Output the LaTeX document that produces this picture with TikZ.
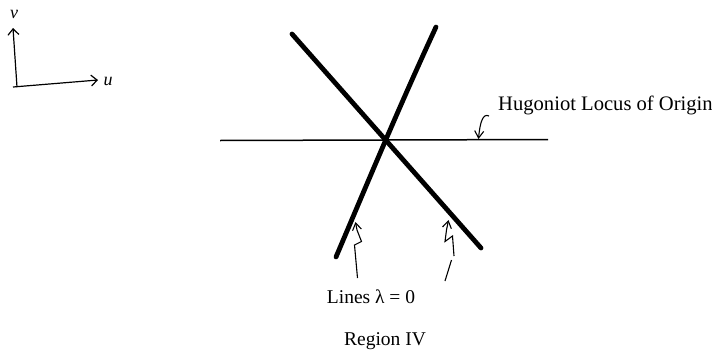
\documentclass[tikz,border=0pt]{standalone}
\usepackage{fontspec}
\setmainfont{Liberation Serif}
\usetikzlibrary{arrows.meta}
\begin{document}
\begin{tikzpicture}[x=1pt,y=-1pt,
  thickline/.style={line width=4.8pt,line cap=round},
  thinline/.style={line width=1.5pt},
  pointer/.style={line width=1.1pt,-{Straight Barb[length=7pt,width=9pt]}},
  axis/.style={line width=1.2pt,-{Straight Barb[length=6pt,width=11pt]}},
  label/.style={inner sep=0pt,font=\fontsize{19.5}{22}\selectfont},
  axlabel/.style={inner sep=0pt,font=\fontsize{18}{20}\selectfont\itshape}]
\useasboundingbox (0,0) rectangle (712,351);
% axes
\coordinate (o) at (17,87);
\coordinate (vtip) at (13,28);
\coordinate (utip) at (98,80);
\draw[axis] (o) -- (vtip);
\draw[axis] ([xshift=-4pt]o) -- (utip);
\node[axlabel] (v) at (14,14) {v};
\node[axlabel] (u) at (108,81) {u};
% Hugoniot locus
\coordinate (hl) at (220,140.5);
\coordinate (hr) at (548,139.5);
\draw[thinline] (hl) -- (hr);
% lines lambda = 0
\coordinate (a1) at (292,34);
\coordinate (a2) at (481,248);
\coordinate (b1) at (436,27);
\coordinate (b2) at (336,257);
\draw[thickline] (a1) -- (a2);
\draw[thickline] (b1) .. controls (400,105) and (375,165) .. (b2);
% labels
\node[label,anchor=base west,font=\fontsize{20.6}{23}\selectfont] (hug) at (498,110) {Hugoniot Locus of Origin};
\node[label,anchor=base] (lines) at (371,303) {Lines λ = 0};
\node[label,anchor=base] (reg) at (385,345) {Region IV};
% pointer to Hugoniot
\coordinate (hs) at (489,116);
\coordinate (ht) at (478.5,139);
\draw[pointer] (hs) .. controls (483,113) and (480,122) .. (ht);
% pointer to left line
\coordinate (ls) at (357.5,278);
\coordinate (lt) at (355.5,222);
\draw[pointer] (ls) -- (354.5,245) -- (361.5,241.5) -- (357,230) -- (lt);
% pointer to right line
\coordinate (rs) at (454,256);
\coordinate (rt) at (448.5,220);
\coordinate (r1) at (451.5,260);
\coordinate (r2) at (445,281);
\draw[pointer] (rs) -- (452.5,236) -- (445,241.5) -- (446.5,230) -- (rt);
\draw[line width=1.1pt] (r1) -- (r2);
\end{tikzpicture}
\end{document}
